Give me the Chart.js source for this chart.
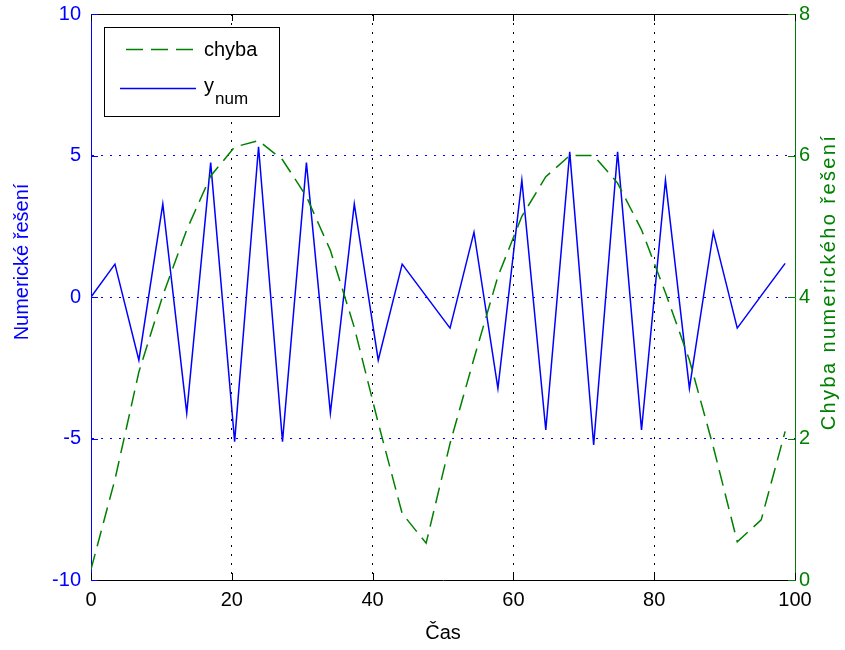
<!DOCTYPE html>
<html>
<head>
<meta charset="utf-8">
<script src="https://cdn.jsdelivr.net/npm/chart.js@4/dist/chart.umd.min.js"></script>
<style>
  html, body { margin: 0; padding: 0; background: #fff; }
  #obal { width: 845px; height: 650px; }
</style>
</head>
<body>
<div id="obal"><canvas id="graf"></canvas></div>
<script>
/* Numerické řešení a jeho chyba v čase */

const cas = [0, 3.4, 6.8, 10.2, 13.6, 17, 20.4, 23.8, 27.2, 30.6, 34, 37.4, 40.8, 44.2, 47.6,
             51, 54.4, 57.8, 61.2, 64.6, 68, 71.4, 74.8, 78.2, 81.6, 85, 88.4, 91.8, 95.2, 98.6]

const yNum = [0, 1.16, -2.23, 3.29, -4.1, 4.75, -5.11, 5.31, -5.11, 4.75, -4.1, 3.29, -2.23, 1.16, 0.03,
              -1.1, 2.29, -3.23, 4.13, -4.7, 5.13, -5.23, 5.13, -4.7, 4.13, -3.23, 2.29, -1.1, 0.05, 1.19]

const chyba = [0.15, 1.42, 2.94, 4.02, 4.95, 5.71, 6.12, 6.21, 5.94, 5.42, 4.66, 3.57, 2.22, 0.94, 0.52,
               1.93, 3.13, 4.29, 5.14, 5.70, 6.0, 6.0, 5.61, 4.95, 4.06, 3.11, 1.88, 0.54, 0.85, 2.10]

const xTicky = [0, 20, 40, 60, 80, 100]

const MODRA = "#0000ff"
const ZELENA = "#008000"
const PISMO = "'Liberation Sans', Arial, sans-serif"

// krátké značky dovnitř grafu + horní okraj
const znacky = {
  id: "znacky",
  afterDraw(chart) {
    const { ctx, chartArea: a, scales } = chart
    const d = 7
    ctx.save()
    ctx.lineWidth = 1
    ctx.strokeStyle = "#000"
    ctx.beginPath()
    ctx.moveTo(a.left, a.top + 0.5)
    ctx.lineTo(a.right, a.top + 0.5)
    scales.x.ticks.forEach(t => {
      const px = Math.round(scales.x.getPixelForValue(t.value)) + 0.5
      ctx.moveTo(px, a.bottom); ctx.lineTo(px, a.bottom - d)
      ctx.moveTo(px, a.top); ctx.lineTo(px, a.top + d)
    })
    ctx.stroke()

    ctx.strokeStyle = MODRA
    ctx.beginPath()
    scales.y.ticks.forEach(t => {
      const py = Math.round(scales.y.getPixelForValue(t.value)) + 0.5
      ctx.moveTo(a.left, py); ctx.lineTo(a.left + d, py)
    })
    ctx.stroke()

    ctx.strokeStyle = ZELENA
    ctx.beginPath()
    scales.y2.ticks.forEach(t => {
      const py = Math.round(scales.y2.getPixelForValue(t.value)) + 0.5
      ctx.moveTo(a.right, py); ctx.lineTo(a.right - d, py)
    })
    ctx.stroke()
    ctx.restore()
  }
}

// popisky os
const popisky = {
  id: "popisky",
  afterDraw(chart) {
    const { ctx } = chart
    ctx.save()
    ctx.font = "20px " + PISMO
    ctx.textAlign = "center"
    ctx.textBaseline = "middle"

    ctx.fillStyle = "#000"
    ctx.fillText("Čas", 443, 633)

    ctx.save()
    ctx.translate(22, 262)
    ctx.rotate(-Math.PI / 2)
    ctx.fillStyle = MODRA
    ctx.fillText("Numerické řešení", 0, 0)
    ctx.restore()

    ctx.save()
    ctx.translate(829, 282)
    ctx.rotate(-Math.PI / 2)
    ctx.fillStyle = ZELENA
    ctx.letterSpacing = "2.4px"
    ctx.fillText("Chyba numerického řešení", 0, 0)
    ctx.restore()
    ctx.restore()
  }
}

// legenda s dolním indexem
const legenda = {
  id: "legenda",
  afterDraw(chart) {
    const { ctx } = chart
    ctx.save()
    ctx.fillStyle = "#fff"
    ctx.fillRect(104, 27, 175, 89)
    ctx.strokeStyle = "#000"
    ctx.lineWidth = 1
    ctx.strokeRect(104.5, 27.5, 175, 89)

    ctx.lineWidth = 1.5
    ctx.strokeStyle = ZELENA
    ctx.setLineDash([17, 8])
    ctx.beginPath(); ctx.moveTo(126, 49.5); ctx.lineTo(196, 49.5); ctx.stroke()
    ctx.setLineDash([])
    ctx.strokeStyle = MODRA
    ctx.beginPath(); ctx.moveTo(120, 88.5); ctx.lineTo(196, 88.5); ctx.stroke()

    ctx.fillStyle = "#000"
    ctx.textAlign = "left"
    ctx.textBaseline = "alphabetic"
    ctx.font = "20px " + PISMO
    ctx.fillText("chyba", 204, 56)
    ctx.fillText("y", 204, 92)
    ctx.font = "17px " + PISMO
    ctx.fillText("num", 215, 104)
    ctx.restore()
  }
}

function bezKraju(lo, hi, barva) {
  return c => (c.tick && (c.tick.value === lo || c.tick.value === hi)) ? "rgba(0,0,0,0)" : barva
}

// pevná velikost kreslicí plochy
function bezOdsazeni(s) {
  s.paddingTop = 0; s.paddingBottom = 0
  s.paddingLeft = 0; s.paddingRight = 0
}

new Chart(document.getElementById("graf"), {
  type: "line",
  data: {
    datasets: [
      {
        label: "chyba",
        data: cas.map((x, i) => ({ x, y: chyba[i] })),
        yAxisID: "y2",
        borderColor: ZELENA,
        borderWidth: 1.5,
        borderDash: [16, 8],
        pointRadius: 0,
        tension: 0,
      },
      {
        label: "ynum",
        data: cas.map((x, i) => ({ x, y: yNum[i] })),
        yAxisID: "y",
        borderColor: MODRA,
        borderWidth: 1.5,
        pointRadius: 0,
        tension: 0,
      },
    ]
  },
  options: {
    responsive: true,
    maintainAspectRatio: false,
    animation: false,
    layout: { padding: { top: 14, left: 0, right: 0, bottom: 0 } },
    plugins: { legend: { display: false }, tooltip: { enabled: false } },
    scales: {
      x: {
        type: "linear",
        min: 0, max: 100,
        afterBuildTicks: s => { s.ticks = xTicky.map(v => ({ value: v })) },
        afterFit: s => { s.height = 70; bezOdsazeni(s) },
        ticks: { color: "#000", font: { size: 20, family: PISMO }, padding: 8, maxRotation: 0 },
        grid: { drawTicks: false, color: bezKraju(0, 100, "#000"), lineWidth: 1 },
        border: { color: "#000", width: 1, dash: [2, 7] },
      },
      y: {
        position: "left",
        min: -10, max: 10,
        ticks: { stepSize: 5, color: MODRA, font: { size: 20, family: PISMO }, padding: 10 },
        afterFit: s => { s.width = 91; bezOdsazeni(s) },
        grid: { drawTicks: false, color: bezKraju(-10, 10, MODRA), lineWidth: 1 },
        border: { color: MODRA, width: 1, dash: [2, 7] },
      },
      y2: {
        position: "right",
        min: 0, max: 8,
        ticks: { stepSize: 2, color: ZELENA, font: { size: 20, family: PISMO }, padding: 4 },
        afterFit: s => { s.width = 50; bezOdsazeni(s) },
        grid: { display: false, drawTicks: false },
        border: { color: ZELENA, width: 1 },
      },
    }
  },
  plugins: [znacky, popisky, legenda]
})
</script>
</body>
</html>
